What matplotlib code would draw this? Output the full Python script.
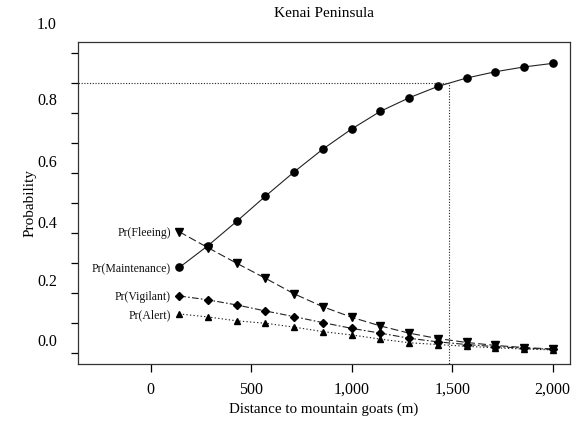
import numpy as np
import matplotlib
matplotlib.use('Agg')
import matplotlib.pyplot as plt
import matplotlib.transforms as mtransforms

plt.rcParams['font.family'] = ['Liberation Serif', 'DejaVu Serif']

# distances (m): 14 evenly spaced points up to 2000
distance = [142.9, 285.7, 428.6, 571.4, 714.3, 857.1, 1000.0,
            1142.9, 1285.7, 1428.6, 1571.4, 1714.3, 1857.1, 2000.0]

pr_maintenance = [0.285, 0.358, 0.439, 0.523, 0.604, 0.680, 0.747,
                  0.806, 0.851, 0.889, 0.917, 0.938, 0.954, 0.966]
pr_fleeing = [0.404, 0.351, 0.299, 0.249, 0.197, 0.154, 0.119,
              0.090, 0.066, 0.048, 0.035, 0.025, 0.018, 0.013]
pr_vigilant = [0.190, 0.177, 0.160, 0.140, 0.121, 0.101, 0.082,
               0.066, 0.049, 0.037, 0.028, 0.021, 0.016, 0.012]
pr_alert = [0.130, 0.120, 0.107, 0.099, 0.086, 0.071, 0.060,
            0.046, 0.034, 0.028, 0.022, 0.017, 0.013, 0.010]

series_names = ['Pr(Maintenance)', 'Pr(Fleeing)', 'Pr(Vigilant)', 'Pr(Alert)']

threshold_prob = 0.9
threshold_dist = 1485

x_ticks = [0, 500, 1000, 1500, 2000]
x_tick_labels = ['0', '500', '1,000', '1,500', '2,000']
y_ticks = np.round(np.arange(0, 1.01, 0.1), 1)
# the printed y labels sit a bit off their ticks in the original
y_label_text = ['0.0', '0.2', '0.4', '0.6', '0.8', '1.0']
y_label_pos = [0.037, 0.237, 0.43, 0.633, 0.84, 1.093]

fig = plt.figure(figsize=(5.82, 4.25), dpi=100)
ax = fig.add_axes([0.134, 0.1435, 0.845, 0.7575])

col = '#222222'
styles = [
    dict(ls='-', marker='o', ms=5.2),
    dict(ls=(0, (7, 3)), marker='v', ms=5.2),
    dict(ls=(0, (6, 2, 1.5, 2)), marker='D', ms=3.6),
    dict(ls=(0, (1.2, 2)), marker='^', ms=4.8),
]
all_series = [pr_maintenance, pr_fleeing, pr_vigilant, pr_alert]
for vals, name, st in zip(all_series, series_names, styles):
    ax.plot(distance, vals, color=col, lw=0.8, ls=st['ls'],
            marker=st['marker'], ms=st['ms'], mfc='black', mec='black')
    ax.annotate(name, (distance[0], vals[0]), xytext=(-6, -1),
                textcoords='offset points', ha='right', va='center',
                fontsize=8.5, color='#111111')

# reference lines at Pr(Maintenance) = 0.9
ax.plot([-400, threshold_dist], [threshold_prob, threshold_prob],
        color=col, lw=0.8, ls=(0, (1, 1.5)))
ax.plot([threshold_dist, threshold_dist], [-0.1, threshold_prob],
        color=col, lw=0.8, ls=(0, (1, 1.5)))

ax.set_xlim(-361, 2085)
ax.set_ylim(-0.037, 1.037)

ax.set_xticks(x_ticks)
ax.set_xticklabels(x_tick_labels, fontsize=11.5)
ax.tick_params(axis='x', direction='out', length=6, width=0.9, pad=7)
ax.set_yticks(y_ticks)
ax.set_yticklabels([])
ax.tick_params(axis='y', direction='out', length=5, width=0.9)

trans = mtransforms.blended_transform_factory(ax.transAxes, ax.transData)
for txt, y in zip(y_label_text, y_label_pos):
    ax.text(-0.043, y, txt, transform=trans, ha='right', va='center',
            fontsize=11.5, clip_on=False)

for sp in ax.spines.values():
    sp.set_linewidth(0.9)
    sp.set_color('#333333')

ax.set_xlabel('Distance to mountain goats (m)', fontsize=10.8, labelpad=3)
ax.set_ylabel('Probability', fontsize=11, labelpad=21)
ax.set_title('Kenai Peninsula', fontsize=11, pad=18)

fig.savefig('out.png', dpi=100)
